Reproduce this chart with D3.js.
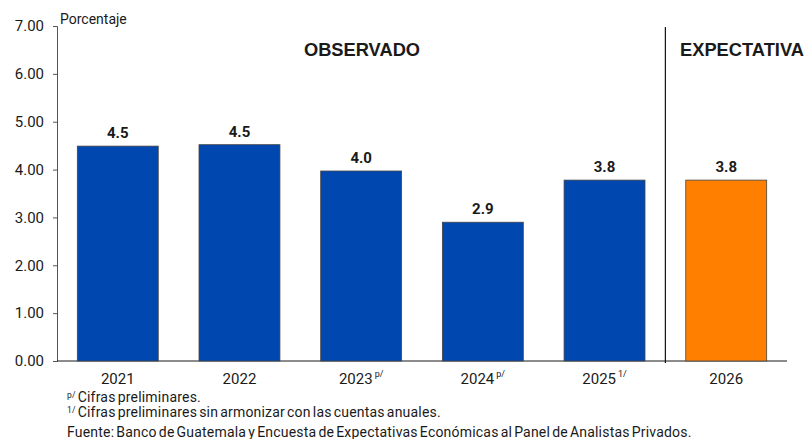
<!DOCTYPE html>
<html>
<head>
<meta charset="utf-8">
<script src="https://cdn.jsdelivr.net/npm/d3@7"></script>
<style>
  body { margin: 0; background: #fff; }
  text { font-family: Roboto, "Noto Sans", sans-serif; fill: #1a1a1a; }
</style>
</head>
<body>
<div id="chart"></div>
<script>
// data
var years = ["2021", "2022", "2023", "2024", "2025", "2026"];
var marks = ["", "", "p/", "p/", "1/", ""];
var values = [4.49, 4.52, 3.97, 2.9, 3.78, 3.78];
var kinds = ["obs", "obs", "obs", "obs", "obs", "exp"];
var yTicks = [0, 1, 2, 3, 4, 5, 6, 7];
var notes = [
  ["p/", "Cifras preliminares."],
  ["1/", "Cifras preliminares sin armonizar con las cuentas anuales."],
  ["", "Fuente: Banco de Guatemala y Encuesta de Expectativas Económicas al Panel de Analistas Privados."]
];

var width = 807,
    height = 439;

var x = d3.scaleBand()
    .domain(years)
    .range([57, 787])
    .paddingInner(0.335)
    .paddingOuter(0.167);

var y = d3.scaleLinear()
    .domain([0, 7])
    .range([361, 26]);

var svg = d3.select("#chart").append("svg")
    .attr("width", width)
    .attr("height", height);

// y axis
var yAxis = svg.append("g")
    .attr("transform", "translate(57,0)")
    .call(d3.axisLeft(y).tickValues(yTicks).tickFormat(d3.format(".2f")).tickSize(4));
yAxis.select(".domain").attr("stroke", "#555");
yAxis.selectAll(".tick line").attr("stroke", "#555");
yAxis.selectAll(".tick text")
    .attr("x", -13)
    .style("font-size", "15px")
    .attr("fill", "#1a1a1a");

// x axis line
svg.append("line")
    .attr("x1", 57).attr("x2", 787)
    .attr("y1", y(0)).attr("y2", y(0))
    .attr("stroke", "#1a1a1a")
    .attr("stroke-width", 1.2);

// separator
var sep = (x("2025") + x.bandwidth() + x("2026")) / 2;
svg.append("line")
    .attr("x1", sep).attr("x2", sep)
    .attr("y1", 27).attr("y2", y(0) + 2)
    .attr("stroke", "#111")
    .attr("stroke-width", 1.2);

// bars
svg.append("g").selectAll("rect")
    .data(years)
  .enter().append("rect")
    .attr("x", function(d) { return x(d); })
    .attr("y", function(d, i) { return y(values[i]); })
    .attr("width", x.bandwidth())
    .attr("height", function(d, i) { return y(0) - y(values[i]); })
    .attr("fill", function(d, i) { return kinds[i] == "exp" ? "#FF8000" : "#0047B0"; })
    .attr("stroke", "#444")
    .attr("stroke-width", 0.8);

// value labels
svg.append("g").selectAll("text")
    .data(years)
  .enter().append("text")
    .attr("x", function(d) { return x(d) + x.bandwidth() / 2; })
    .attr("y", function(d, i) { return y(values[i]) - 8; })
    .attr("text-anchor", "middle")
    .style("font-size", "15px")
    .style("font-weight", "bold")
    .text(function(d, i) { return d3.format(".1f")(values[i]); });

// category labels
var cat = svg.append("g").selectAll("text")
    .data(years)
  .enter().append("text")
    .attr("x", function(d) { return x(d) + x.bandwidth() / 2; })
    .attr("y", 384)
    .attr("text-anchor", "middle")
    .style("font-size", "15px");
cat.append("tspan").text(function(d) { return d; });
cat.append("tspan")
    .attr("dy", -7)
    .attr("dx", 2)
    .style("font-size", "9px")
    .text(function(d, i) { return marks[i]; });

// section titles
svg.append("text")
    .attr("x", 362).attr("y", 56)
    .attr("text-anchor", "middle")
    .style("font-family", "'Liberation Sans', Arial, sans-serif")
    .style("font-size", "18.3px")
    .style("font-weight", "bold")
    .attr("fill", "#C9962C")
    .text("OBSERVADO");
svg.append("text")
    .attr("x", 680).attr("y", 56)
    .style("font-family", "'Liberation Sans', Arial, sans-serif")
    .style("font-size", "18.3px")
    .style("font-weight", "bold")
    .attr("fill", "#C9962C")
    .text("EXPECTATIVA");

// unit label
svg.append("text")
    .attr("x", 60).attr("y", 24)
    .style("font-size", "14px")
    .text("Porcentaje");

// footnotes
var fn = svg.append("g").selectAll("text")
    .data(notes)
  .enter().append("text")
    .attr("x", 67)
    .attr("y", function(d, i) { return 401.5 + i * 15.5; })
    .style("font-size", "14px")
    .style("letter-spacing", "0.2px")
    .style("word-spacing", "-1.6px");
fn.append("tspan")
    .attr("dy", -4)
    .style("font-size", "8.5px")
    .text(function(d) { return d[0]; });
fn.append("tspan")
    .attr("dy", 4)
    .attr("dx", function(d) { return d[0] ? 2 : 0; })
    .text(function(d) { return d[1]; });
</script>
</body>
</html>
